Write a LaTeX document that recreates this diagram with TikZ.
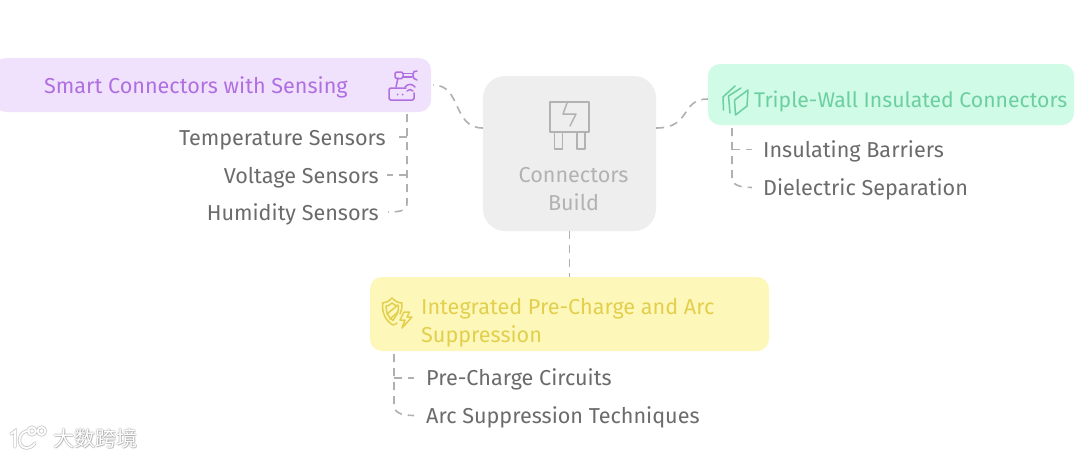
\documentclass[tikz,border=0pt]{standalone}
\usepackage{fontspec}
\setmainfont{Fira Sans}
\newfontfamily\cjk{Noto Sans CJK SC}
\usetikzlibrary{calc}
\definecolor{txt}{HTML}{6B6B6B}
\definecolor{conn}{HTML}{B0B0B0}
\definecolor{pfill}{HTML}{F0E2FD}
\definecolor{ptxt}{HTML}{B06FE0}
\definecolor{gfill}{HTML}{D0FBE6}
\definecolor{gtxt}{HTML}{6CCF9F}
\definecolor{yfill}{HTML}{FDF7B9}
\definecolor{ytxt}{HTML}{E2CF4E}
\definecolor{cfill}{HTML}{EEEEEE}
\definecolor{ctxt}{HTML}{B2B2B2}
\tikzset{x=1pt,y=-1pt,
 lab/.style={inner sep=0pt,text=txt,font=\fontsize{21.6}{25}\selectfont},
 head/.style={inner sep=0pt,font=\fontsize{21.6}{28}\selectfont},
 conline/.style={draw=conn,line width=1.6pt,dash pattern=on 8pt off 6pt},
 ico/.style={line width=1.5pt,line join=round,line cap=round,fill=none},
 wmark/.style={inner sep=0pt,anchor=west,font=\cjk\fontsize{21}{23}\selectfont},
 boxarea/.style={inner sep=0pt}}
\begin{document}
\begin{tikzpicture}
\useasboundingbox (0,0) rectangle (1080,458);
\fill[white] (0,0) rectangle (1080,458);
% boxes
\fill[pfill,rounded corners=12pt] (-6,58) rectangle (431,112);
\fill[cfill,rounded corners=22pt] (483,76) rectangle (656,231);
\fill[gfill,rounded corners=12pt] (708,64) rectangle (1074,125);
\fill[yfill,rounded corners=12pt] (370,277) rectangle (769,351);
\node[boxarea,minimum width=173pt,minimum height=155pt] (c) at (569.5,153.5) {};
\node[boxarea,minimum width=437pt,minimum height=54pt] (p) at (212.5,85) {};
\node[boxarea,minimum width=366pt,minimum height=61pt] (g) at (891,94.5) {};
\node[boxarea,minimum width=399pt,minimum height=74pt] (y) at (569.5,314) {};
% head text
\node[head,text=ptxt,anchor=west] (pt) at (44,87) {Smart Connectors with Sensing};
\node[head,text=gtxt,anchor=west,font=\fontsize{21.2}{28}\selectfont] (gt) at (754,101) {Triple-Wall Insulated Connectors};
\node[head,text=ytxt,anchor=west,align=left] (yt) at (421,323) {Integrated Pre-Charge and Arc\\Suppression};
\node[head,text=ctxt,align=center] (ct) at (573.5,189.5) {Connectors\\Build};
% leaves
\node[lab,anchor=east] (l1) at (386,140) {Temperature Sensors};
\node[lab,anchor=east] (l2) at (379,178) {Voltage Sensors};
\node[lab,anchor=east] (l3) at (379,214) {Humidity Sensors};
\node[lab,anchor=west] (r1) at (763,151) {Insulating Barriers};
\node[lab,anchor=west] (r2) at (763,189) {Dielectric Separation};
\node[lab,anchor=west] (b1) at (426,379) {Pre-Charge Circuits};
\node[lab,anchor=west] (b2) at (426,417) {Arc Suppression Techniques};
% tree points
\coordinate (tl) at (407,114);
\coordinate (tl1) at (394,137);
\coordinate (jl1) at (407,137);
\coordinate (tl2) at (387,175);
\coordinate (jl2) at (407,175);
\coordinate (tl3) at (388,212);
\coordinate (tr) at (732,128);
\coordinate (tr1) at (752,149.5);
\coordinate (jr1) at (732,149.5);
\coordinate (tr2) at (752,187.5);
\coordinate (tb) at (394,354);
\coordinate (tb1) at (414,378);
\coordinate (jb1) at (394,378);
\coordinate (tb2) at (414,415.5);
% connectors
\draw[conline,shorten >=2pt] ([yshift=25.5pt]c.west) .. controls (452,128) and (462,85) .. (p.east);
\draw[conline] ([yshift=25.5pt]c.east) .. controls (692,128) and (680,99) .. ([yshift=-4.5pt]g.west);
\draw[conline] (c.south) -- (y.north);
\draw[conline] (tl) -- (407,203) .. controls (407,210) and (402,212) .. (tl3);
\draw[conline] (jl1) -- (tl1);
\draw[conline] (jl2) -- (tl2);
\draw[conline] (tr) -- (732,178) .. controls (732,184) and (738,187.5) .. (tr2);
\draw[conline] (jr1) -- (tr1);
\draw[conline] (tb) -- (394,405) .. controls (394,412) and (400,415.5) .. (tb2);
\draw[conline] (jb1) -- (tb1);
% centre icon
\begin{scope}[ico,draw=ctxt]
\draw (550,102) rectangle (589,132);
\draw (554.5,132) rectangle (562.5,149);
\draw (577,132) rectangle (585,149);
\draw (567,103) -- (563,114) -- (576,114) -- (570,126);
\end{scope}
% purple icon
\begin{scope}[ico,draw=ptxt]
\draw[rounded corners=1.5pt] (406,88) -- (389,88) -- (389,100) -- (414,100) -- (414,93);
\draw (396,87) -- (398,78);
\draw[rounded corners=1.5pt] (395,72) rectangle (403,78.5);
\draw (403,73.5) -- (412,73.5) (403,77) -- (412,77);
\draw (417,71) .. controls (412,69) and (411,80) .. (417,80);
\fill[ptxt,draw=none] (397.5,94.5) circle (1pt) (402.5,94.5) circle (1pt);
\draw (405,87) .. controls (408,83.5) and (412,83.5) .. (415,87);
\draw (407,91) .. controls (409,89) and (411,89) .. (413,91);
\end{scope}
% green icon
\begin{scope}[ico,draw=gtxt]
\draw (734.5,100) -- (748,90) -- (747,106) -- (735.5,115) -- cycle;
\draw (730,113) -- (728.5,96) -- (741,88);
\draw (723.5,110) -- (723,97) -- (735,86);
\end{scope}
% yellow icon
\begin{scope}[ico,draw=ytxt]
\draw (400,314) .. controls (402,309) and (402,306) .. (402,303) .. controls (398,303) and (395,301) .. (392,298) .. controls (389,301) and (386,303) .. (382.5,303) .. controls (382,314) and (386,321) .. (393,325) .. controls (394,325) and (396,324) .. (397,323);
\draw (386,306) .. controls (388,306) and (390,305) .. (392,303) .. controls (394,305) and (396,306) .. (398.5,306) .. controls (398.5,310) and (398,312) .. (397,314) -- (393,320.5) .. controls (389,318) and (386,313) .. (386,306);
\draw (387,314) -- (398,305);
\draw (390,319) -- (398,312);
\draw (404,312) -- (400,320) -- (405,320) -- (402,328) -- (412,317) -- (407,317) -- (409.5,312) -- cycle;
\end{scope}
% watermark
\foreach \dx/\dy in {-1/0,1/0,0/-1,0/1,1/1}{
\node[wmark,text=black,opacity=.12] at (53+\dx,438.5+\dy) {大数跨境};
}
\node[wmark,text=white] (wm) at (53,438.5) {大数跨境};
\begin{scope}[line cap=round]
\foreach \col/\w in {black!22/3.4pt,white/1.8pt}{
\draw[\col,line width=\w] (11,434) -- (15,431) -- (15,447);
\draw[\col,line width=\w] (29,431) .. controls (18,430) and (16,447) .. (26,448) .. controls (30,448) and (33,446) .. (35,443);
\draw[\col,line width=\w] (32,431) circle (3.8pt) (41.5,431) circle (3.8pt);
}
\end{scope}
\end{tikzpicture}
\end{document}
